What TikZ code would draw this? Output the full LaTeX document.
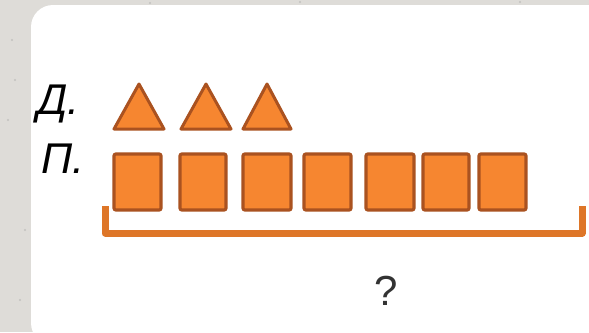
\documentclass[tikz,border=0pt]{standalone}
\usepackage{fontspec}
\setmainfont{Liberation Sans}
\definecolor{bgstone}{RGB}{222,220,216}
\definecolor{fillor}{RGB}{246,134,48}
\definecolor{edgeor}{RGB}{170,82,32}
\definecolor{brackor}{RGB}{222,118,40}
\tikzset{
  sq/.style={fill=fillor,draw=edgeor,line width=3.2pt,rounded corners=2pt},
  tri/.style={fill=fillor,draw=edgeor,line width=3pt,line join=round},
  lbl/.style={font=\fontsize{43}{43}\selectfont\itshape,anchor=base west,inner sep=0pt},
  qm/.style={font=\fontsize{42}{42}\selectfont,inner sep=0pt,text=black!80}
}
\begin{document}
\begin{tikzpicture}[x=1pt,y=-1pt]
\useasboundingbox (0,0) rectangle (589,332);
\fill[bgstone] (0,0) rectangle (589,332);
\foreach \i/\a/\b in {1/12/40,2/60/200,3/20/300,4/8/120,5/40/260,6/15/80,7/300/2,8/150/3,9/520/2,10/25/230}
  \fill[black!35,opacity=0.5] (\a,\b) circle (1.2pt);
\fill[white,rounded corners=22pt] (31,5) rectangle (620,345);
% labels
\node[lbl] (dlab) at (37,114) {Д.};
\node[lbl] (plab) at (41,173) {П.};
% triangles
\foreach \n/\l/\r in {t1/114/164,t2/181/231,t3/243/291}{
  \coordinate (\n) at ({(\l+\r)/2},106);
  \draw[tri] (\l,129) -- ({(\l+\r)/2},84) -- (\r,129) -- cycle;
}
% squares
\foreach \n/\l/\r in {s1/114/161,s2/180/226,s3/243/291,s4/304/351,s5/366/414,s6/423/469,s7/479/526}{
  \draw[sq] (\l,154) rectangle (\r,210);
  \coordinate (\n) at ({(\l+\r)/2},182);
}
% bracket
\coordinate (bl) at (105,206);
\coordinate (br) at (582,206);
\draw[brackor,line width=7pt,line join=round] (bl) -- (105,233) -- (582,233) -- (br);
\node[qm] (q) at (386,291) {?};
\end{tikzpicture}
\end{document}
